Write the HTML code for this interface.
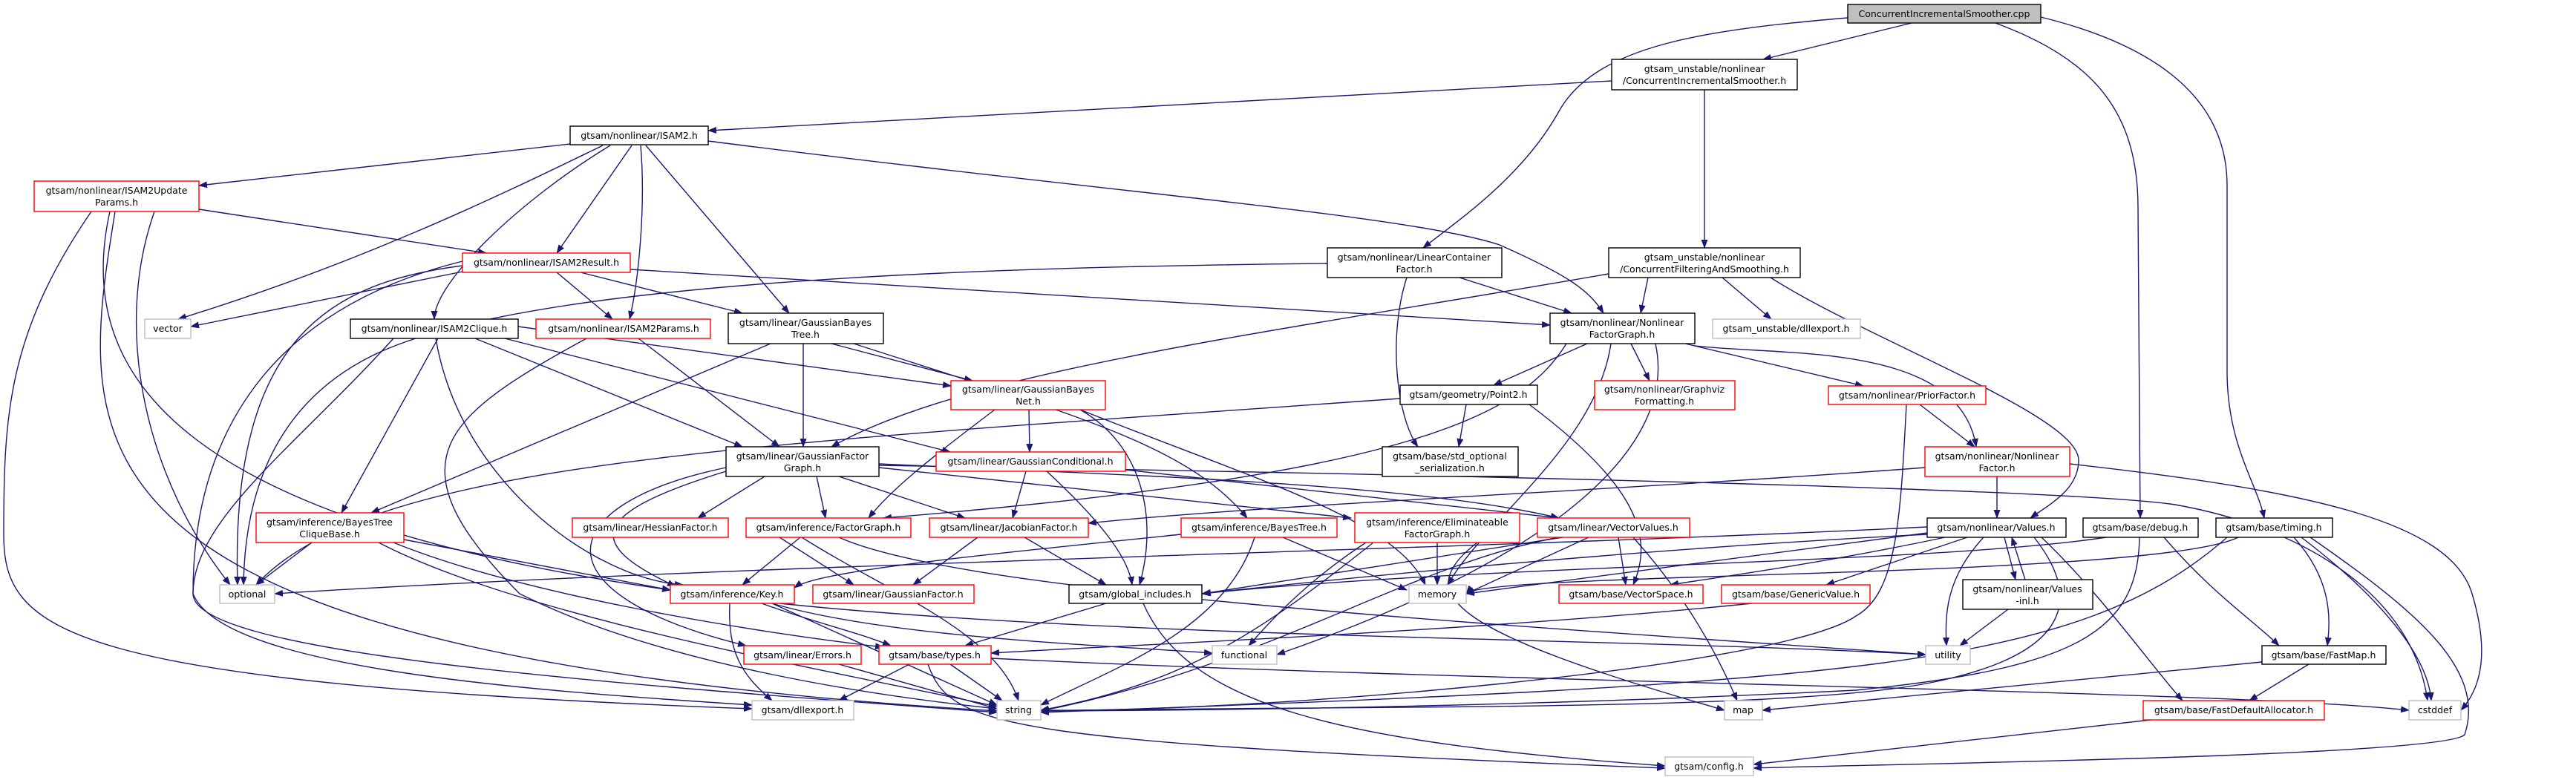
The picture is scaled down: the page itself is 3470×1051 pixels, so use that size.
<!DOCTYPE html>
<html><head><meta charset="utf-8"><style>
html,body{margin:0;padding:0;background:#fff;}
svg{display:block;}
text{font-family:"DejaVu Sans","Liberation Sans",sans-serif;font-size:12.5px;fill:#000;text-anchor:middle;}
.e{fill:none;stroke:#191970;stroke-width:1.4;marker-end:url(#a);}
.b{fill:#fff;stroke:#000;stroke-width:1.4;}
.r{fill:#fff;stroke:#ff0000;stroke-width:1.4;}
.g{fill:#fff;stroke:#bfbfbf;stroke-width:1.4;}
</style></head><body>
<svg width="3470" height="1051" viewBox="0 0 3470 1051" xmlns="http://www.w3.org/2000/svg">
<defs><marker id="a" markerWidth="12" markerHeight="9" refX="11" refY="4.5" orient="auto" markerUnits="userSpaceOnUse"><polygon points="0,0 12,4.5 0,9" fill="#191970"/></marker></defs>
<g>
<path class="e" d="M2575 31 L2375 80"/>
<path class="e" d="M2489 24 C2300 40 2150 60 2100 150 C2050 240 1960 300 1917 334"/>
<path class="e" d="M2688 31 C2820 80 2880 150 2880 280 L2883 698"/>
<path class="e" d="M2749 23 C2900 60 3000 130 3000 250 L3000 500 C3000 600 3040 650 3050 698"/>
<path class="e" d="M2171 109 L954 176"/>
<path class="e" d="M2296 121 L2296 334"/>
<path class="e" d="M768 194 L268 250"/>
<path class="e" d="M851 196 L750 341"/>
<path class="e" d="M812 196 C700 250 500 350 240 430"/>
<path class="e" d="M822 196 C700 270 585 380 585 430"/>
<path class="e" d="M863 196 C870 280 860 380 848 430"/>
<path class="e" d="M870 196 L1063 422"/>
<path class="e" d="M954 190 C1500 260 1900 290 2020 330 C2110 370 2140 390 2160 422"/>
<path class="e" d="M268 282 L655 341"/>
<path class="e" d="M208 285 C150 450 200 650 310 788"/>
<path class="e" d="M123 285 C10 450 5 560 5 720 C5 850 80 920 1013 955"/>
<path class="e" d="M148 285 C100 500 230 700 903 795"/>
<path class="e" d="M155 285 C105 600 50 880 1343 958"/>
<path class="e" d="M623 366 L257 440"/>
<path class="e" d="M750 367 L825 430"/>
<path class="e" d="M782 367 L1000 422"/>
<path class="e" d="M849 363 L2088 438"/>
<path class="e" d="M623 358 C450 380 310 450 320 788"/>
<path class="e" d="M623 352 C350 420 260 600 260 800 C260 880 800 920 1343 960"/>
<path class="e" d="M1966 374 L2117 422"/>
<path class="e" d="M1788 355 C1300 360 700 380 500 480 C380 540 330 650 328 788"/>
<path class="e" d="M1895 374 C1870 450 1880 560 1910 602"/>
<path class="e" d="M2167 369 C1700 450 1300 500 1120 602"/>
<path class="e" d="M2220 374 L2210 422"/>
<path class="e" d="M2320 374 L2386 430"/>
<path class="e" d="M2385 374 C2520 460 2800 560 2800 620 C2800 660 2760 680 2735 698"/>
<path class="e" d="M2138 463 L2012 519"/>
<path class="e" d="M2197 463 L2222 513"/>
<path class="e" d="M2270 463 L2510 520"/>
<path class="e" d="M2283 466 C2400 480 2640 460 2662 602"/>
<path class="e" d="M2110 463 C2050 560 1900 640 1190 698"/>
<path class="e" d="M2170 463 C2150 600 2000 700 1950 788"/>
<path class="e" d="M2230 463 C2260 600 2100 750 1720 882"/>
<path class="e" d="M698 440 L1281 520"/>
<path class="e" d="M640 456 L1000 602"/>
<path class="e" d="M590 456 L460 691"/>
<path class="e" d="M680 456 L1280 609"/>
<path class="e" d="M587 456 C620 650 800 780 920 788"/>
<path class="e" d="M530 456 C400 600 260 700 260 800 C300 900 700 930 1013 950"/>
<path class="e" d="M860 456 L1050 602"/>
<path class="e" d="M790 456 C600 560 520 620 700 800 C900 900 1200 940 1343 955"/>
<path class="e" d="M1120 463 L1310 513"/>
<path class="e" d="M1082 463 L1082 602"/>
<path class="e" d="M1150 463 C1450 560 1600 600 1680 698"/>
<path class="e" d="M1038 463 L500 691"/>
<path class="e" d="M1386 552 L1387 609"/>
<path class="e" d="M1340 552 C1250 620 1200 660 1170 698"/>
<path class="e" d="M1455 552 C1540 600 1560 700 1535 788"/>
<path class="e" d="M1455 552 C1700 650 1880 700 1920 788"/>
<path class="e" d="M1975 545 L1965 602"/>
<path class="e" d="M1886 537 C1000 600 500 620 345 788"/>
<path class="e" d="M2060 545 C2200 650 2230 720 2200 788"/>
<path class="e" d="M2586 545 L2660 602"/>
<path class="e" d="M2568 545 C2560 700 2555 800 2500 830 C2400 900 1700 960 1402 957"/>
<path class="e" d="M2690 642 L2690 698"/>
<path class="e" d="M2593 630 C2200 660 1700 680 1466 705"/>
<path class="e" d="M2788 625 C3100 660 3300 700 3330 800 C3360 900 3330 940 3315 957"/>
<path class="e" d="M1030 642 L940 698"/>
<path class="e" d="M1100 642 L1112 698"/>
<path class="e" d="M1130 642 L1300 698"/>
<path class="e" d="M1184 630 L1820 698"/>
<path class="e" d="M1184 625 C1500 640 1900 650 2100 698"/>
<path class="e" d="M1184 627 C2000 640 2800 660 2930 680 C3100 710 3250 800 3270 944"/>
<path class="e" d="M978 630 C740 680 720 800 1005 870"/>
<path class="e" d="M978 635 C800 690 780 730 910 790"/>
<path class="e" d="M1382 635 L1364 698"/>
<path class="e" d="M1410 635 C1480 700 1520 750 1525 788"/>
<path class="e" d="M1516 633 L2100 698"/>
<path class="e" d="M1050 724 L1150 788"/>
<path class="e" d="M1078 724 L1000 788"/>
<path class="e" d="M1080 724 C1200 800 1340 850 1372 944"/>
<path class="e" d="M1130 724 C1300 800 2000 840 2594 882"/>
<path class="e" d="M1317 724 L1230 788"/>
<path class="e" d="M1380 724 L1490 788"/>
<path class="e" d="M1728 724 L1895 795"/>
<path class="e" d="M1690 724 C1650 850 1500 900 1402 950"/>
<path class="e" d="M1591 720 C1300 750 1100 770 1070 792"/>
<path class="e" d="M1936 731 L1936 788"/>
<path class="e" d="M1840 731 C1750 790 1700 850 1682 870"/>
<path class="e" d="M1850 731 C1700 850 1600 920 1402 957"/>
<path class="e" d="M1990 731 C1900 800 1950 850 2323 957"/>
<path class="e" d="M2140 724 L1975 800"/>
<path class="e" d="M2105 724 L1620 800"/>
<path class="e" d="M2100 724 C1900 760 1700 900 1402 958"/>
<path class="e" d="M2200 724 C2250 780 2300 850 2340 944"/>
<path class="e" d="M2180 724 L2190 788"/>
<path class="e" d="M420 731 L345 788"/>
<path class="e" d="M544 727 L903 795"/>
<path class="e" d="M530 731 C700 800 1000 850 1190 872"/>
<path class="e" d="M510 731 C700 830 1100 900 1343 952"/>
<path class="e" d="M1026 813 C1100 840 1150 850 1200 870"/>
<path class="e" d="M983 813 C980 880 1000 910 1040 944"/>
<path class="e" d="M1040 813 C1200 860 1500 870 1633 880"/>
<path class="e" d="M1050 813 C1500 860 2200 860 2594 882"/>
<path class="e" d="M1040 813 L1343 950"/>
<path class="e" d="M1130 895 L1343 955"/>
<path class="e" d="M1490 813 L1300 870"/>
<path class="e" d="M1540 813 C1600 950 1800 1000 2243 1032"/>
<path class="e" d="M1225 895 L1130 944"/>
<path class="e" d="M1280 895 L1350 944"/>
<path class="e" d="M1335 887 C2000 920 3000 930 3245 957"/>
<path class="e" d="M1250 895 C1280 980 1350 1000 2243 1035"/>
<path class="e" d="M2700 724 L2715 781"/>
<path class="e" d="M2728 781 L2710 724"/>
<path class="e" d="M2650 724 L2460 788"/>
<path class="e" d="M2672 724 C2620 780 2620 830 2622 870"/>
<path class="e" d="M2740 724 C2800 800 2800 880 2600 920 C2400 960 1800 950 1402 958"/>
<path class="e" d="M2750 724 C2830 800 2900 900 2940 944"/>
<path class="e" d="M2596 718 L1975 800"/>
<path class="e" d="M2596 710 C2000 740 1000 760 370 800"/>
<path class="e" d="M2596 720 C2200 740 1800 780 1619 800"/>
<path class="e" d="M2620 724 C2450 760 2300 780 2250 788"/>
<path class="e" d="M2705 821 L2640 870"/>
<path class="e" d="M2915 724 C2980 800 3040 840 3070 870"/>
<path class="e" d="M2882 724 C2880 850 2800 900 2500 930 C2100 950 1700 957 1402 958"/>
<path class="e" d="M2837 724 C2600 760 2000 760 1619 800"/>
<path class="e" d="M3090 724 C3140 780 3140 830 3135 870"/>
<path class="e" d="M3100 724 C3200 800 3270 880 3275 944"/>
<path class="e" d="M3112 724 C3250 820 3350 900 3320 990 C3290 1020 2500 1030 2362 1035"/>
<path class="e" d="M3015 724 C2900 780 2000 770 1975 800"/>
<path class="e" d="M3000 724 C2800 900 2500 920 1402 960"/>
<path class="e" d="M3110 895 L3030 944"/>
<path class="e" d="M3047 892 L2374 957"/>
<path class="e" d="M2897 970 L2362 1030"/>
<path class="e" d="M2360 813 C2000 850 1500 870 1335 880"/>
</g>
<g>
<rect x="2489" y="6" width="260" height="25" fill="#bfbfbf" stroke="#000" stroke-width="1.4"/><text x="2619" y="23">ConcurrentIncrementalSmoother.cpp</text>
<rect class="b" x="2171" y="80" width="250" height="41"/><text x="2296" y="97">gtsam_unstable/nonlinear</text><text x="2296" y="113">/ConcurrentIncrementalSmoother.h</text>
<rect class="b" x="768" y="170" width="186" height="25"/><text x="861" y="187">gtsam/nonlinear/ISAM2.h</text>
<rect class="r" x="46" y="244" width="222" height="41"/><text x="157" y="261">gtsam/nonlinear/ISAM2Update</text><text x="157" y="277">Params.h</text>
<rect class="r" x="623" y="341" width="226" height="26"/><text x="736" y="358">gtsam/nonlinear/ISAM2Result.h</text>
<rect class="b" x="1788" y="334" width="235" height="40"/><text x="1905" y="351">gtsam/nonlinear/LinearContainer</text><text x="1905" y="367">Factor.h</text>
<rect class="b" x="2167" y="334" width="258" height="40"/><text x="2296" y="351">gtsam_unstable/nonlinear</text><text x="2296" y="367">/ConcurrentFilteringAndSmoothing.h</text>
<rect class="g" x="195" y="430" width="62" height="26"/><text x="226" y="447">vector</text>
<rect class="b" x="472" y="430" width="226" height="26"/><text x="585" y="447">gtsam/nonlinear/ISAM2Clique.h</text>
<rect class="r" x="722" y="430" width="235" height="26"/><text x="840" y="447">gtsam/nonlinear/ISAM2Params.h</text>
<rect class="b" x="981" y="422" width="209" height="41"/><text x="1085" y="439">gtsam/linear/GaussianBayes</text><text x="1085" y="455">Tree.h</text>
<rect class="b" x="2088" y="422" width="195" height="41"/><text x="2185" y="439">gtsam/nonlinear/Nonlinear</text><text x="2185" y="455">FactorGraph.h</text>
<rect class="g" x="2307" y="430" width="199" height="26"/><text x="2406" y="447">gtsam_unstable/dllexport.h</text>
<rect class="r" x="1281" y="513" width="208" height="39"/><text x="1385" y="529">gtsam/linear/GaussianBayes</text><text x="1385" y="545">Net.h</text>
<rect class="b" x="1886" y="519" width="185" height="26"/><text x="1978" y="536">gtsam/geometry/Point2.h</text>
<rect class="r" x="2148" y="513" width="189" height="39"/><text x="2242" y="529">gtsam/nonlinear/Graphviz</text><text x="2242" y="545">Formatting.h</text>
<rect class="r" x="2463" y="520" width="212" height="25"/><text x="2569" y="537">gtsam/nonlinear/PriorFactor.h</text>
<rect class="b" x="978" y="602" width="206" height="40"/><text x="1081" y="619">gtsam/linear/GaussianFactor</text><text x="1081" y="635">Graph.h</text>
<rect class="r" x="1261" y="609" width="255" height="26"/><text x="1388" y="626">gtsam/linear/GaussianConditional.h</text>
<rect class="b" x="1862" y="602" width="183" height="40"/><text x="1953" y="619">gtsam/base/std_optional</text><text x="1953" y="635">_serialization.h</text>
<rect class="r" x="2593" y="602" width="195" height="40"/><text x="2690" y="619">gtsam/nonlinear/Nonlinear</text><text x="2690" y="635">Factor.h</text>
<rect class="r" x="345" y="691" width="199" height="40"/><text x="444" y="708">gtsam/inference/BayesTree</text><text x="444" y="724">CliqueBase.h</text>
<rect class="r" x="771" y="698" width="210" height="26"/><text x="876" y="715">gtsam/linear/HessianFactor.h</text>
<rect class="r" x="1005" y="698" width="222" height="26"/><text x="1116" y="715">gtsam/inference/FactorGraph.h</text>
<rect class="r" x="1252" y="698" width="214" height="26"/><text x="1359" y="715">gtsam/linear/JacobianFactor.h</text>
<rect class="r" x="1591" y="698" width="210" height="26"/><text x="1696" y="715">gtsam/inference/BayesTree.h</text>
<rect class="r" x="1825" y="691" width="222" height="40"/><text x="1936" y="708">gtsam/inference/Eliminateable</text><text x="1936" y="724">FactorGraph.h</text>
<rect class="r" x="2071" y="698" width="205" height="26"/><text x="2173" y="715">gtsam/linear/VectorValues.h</text>
<rect class="b" x="2596" y="698" width="187" height="26"/><text x="2689" y="715">gtsam/nonlinear/Values.h</text>
<rect class="b" x="2806" y="698" width="155" height="26"/><text x="2883" y="715">gtsam/base/debug.h</text>
<rect class="b" x="2985" y="698" width="157" height="26"/><text x="3063" y="715">gtsam/base/timing.h</text>
<rect class="g" x="296" y="788" width="74" height="25"/><text x="333" y="805">optional</text>
<rect class="r" x="903" y="788" width="167" height="25"/><text x="986" y="805">gtsam/inference/Key.h</text>
<rect class="r" x="1095" y="788" width="217" height="25"/><text x="1203" y="805">gtsam/linear/GaussianFactor.h</text>
<rect class="b" x="1440" y="788" width="179" height="25"/><text x="1529" y="805">gtsam/global_includes.h</text>
<rect class="g" x="1898" y="788" width="77" height="25"/><text x="1936" y="805">memory</text>
<rect class="r" x="2100" y="788" width="194" height="25"/><text x="2197" y="805">gtsam/base/VectorSpace.h</text>
<rect class="r" x="2319" y="788" width="200" height="25"/><text x="2419" y="805">gtsam/base/GenericValue.h</text>
<rect class="b" x="2644" y="781" width="175" height="40"/><text x="2731" y="798">gtsam/nonlinear/Values</text><text x="2731" y="814">-inl.h</text>
<rect class="r" x="1002" y="870" width="158" height="25"/><text x="1081" y="887">gtsam/linear/Errors.h</text>
<rect class="r" x="1184" y="870" width="151" height="25"/><text x="1259" y="887">gtsam/base/types.h</text>
<rect class="g" x="1633" y="870" width="87" height="25"/><text x="1676" y="887">functional</text>
<rect class="g" x="2594" y="870" width="60" height="25"/><text x="2624" y="887">utility</text>
<rect class="b" x="3047" y="870" width="167" height="25"/><text x="3130" y="887">gtsam/base/FastMap.h</text>
<rect class="g" x="1013" y="944" width="137" height="26"/><text x="1081" y="961">gtsam/dllexport.h</text>
<rect class="g" x="1343" y="944" width="59" height="26"/><text x="1372" y="961">string</text>
<rect class="g" x="2323" y="944" width="51" height="26"/><text x="2348" y="961">map</text>
<rect class="r" x="2887" y="944" width="244" height="26"/><text x="3009" y="961">gtsam/base/FastDefaultAllocator.h</text>
<rect class="g" x="3245" y="944" width="70" height="26"/><text x="3280" y="961">cstddef</text>
<rect class="g" x="2243" y="1020" width="119" height="25"/><text x="2302" y="1037">gtsam/config.h</text>
</g>
</svg>
</body></html>
